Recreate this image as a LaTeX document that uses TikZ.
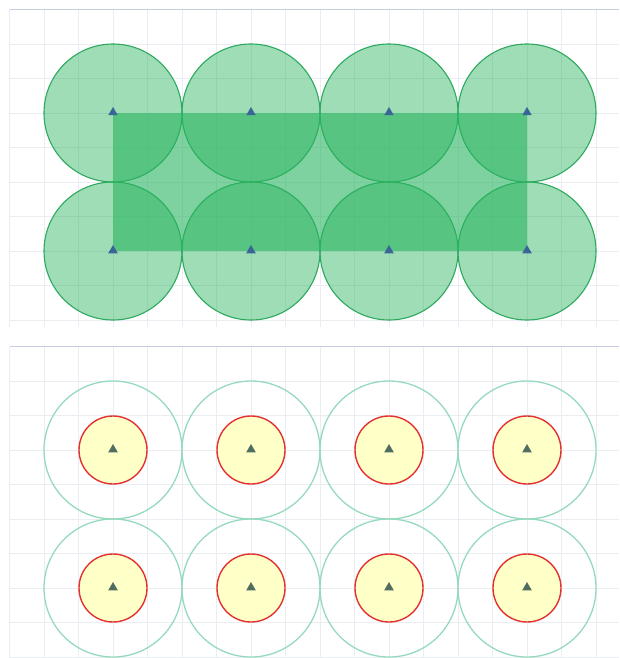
\documentclass[tikz,border=0pt]{standalone}
\usetikzlibrary{shapes.geometric}
\begin{document}
\begin{tikzpicture}[x=1pt,y=-1pt]
\definecolor{gridc}{RGB}{234,237,242}
\definecolor{borderc}{RGB}{200,206,226}
\definecolor{greenc}{RGB}{40,180,95}
\definecolor{greenline}{RGB}{45,170,95}
\definecolor{tealc}{RGB}{150,218,190}
\definecolor{yellowc}{RGB}{255,255,200}
\definecolor{redc}{RGB}{228,50,50}
\definecolor{bluetri}{RGB}{60,100,150}
\definecolor{graytri}{RGB}{80,110,95}
\tikzset{
  gridline/.style={draw=gridc, line width=0.8pt},
  panelborder/.style={draw=borderc, line width=1pt},
  bigdisc/.style={circle, minimum size=138pt, inner sep=0pt, fill=greenc, fill opacity=0.45, draw=greenline, draw opacity=1, line width=1.1pt},
  outerring/.style={circle, minimum size=138pt, inner sep=0pt, draw=tealc, line width=1.3pt},
  innerdisc/.style={circle, minimum size=68pt, inner sep=0pt, fill=yellowc, draw=redc, line width=1.4pt},
  tri/.style={regular polygon, regular polygon sides=3, minimum size=11pt, inner sep=0pt, yshift=0.5pt},
  bluemark/.style={tri, fill=bluetri},
  graymark/.style={tri, fill=graytri},
}
\useasboundingbox (0,0) rectangle (619,658);
\fill[white] (0,0) rectangle (619,658);
% top panel grid
\foreach \i in {0,...,17} { \draw[gridline] ({9.5+34.5*\i},9.5) -- ({9.5+34.5*\i},327); }
\foreach \j in {0,...,9} { \draw[gridline] (9.5,{9.5+34.5*\j}) -- (619,{9.5+34.5*\j}); }
\draw[panelborder] (9.5,9.5) -- (619,9.5);
% bottom panel grid
\foreach \i in {0,...,17} { \draw[gridline] ({9.5+34.5*\i},346.5) -- ({9.5+34.5*\i},658); }
\foreach \j in {0,...,9} { \draw[gridline] (9.5,{346.5+34.5*\j}) -- (619,{346.5+34.5*\j}); }
\draw[panelborder] (9.5,346.5) -- (619,346.5);
% top panel circles
\foreach \c [count=\k] in {113,251,389,527} {
  \node[bigdisc] (ta\k) at (\c,113) {};
  \node[bigdisc] (tb\k) at (\c,251) {};
}
\fill[greenc, fill opacity=0.6] (ta1.center) rectangle (tb4.center);
\foreach \k in {1,...,4} {
  \node[bluemark] at (ta\k.center) {};
  \node[bluemark] at (tb\k.center) {};
}
% bottom panel
\foreach \c [count=\k] in {113,251,389,527} {
  \node[outerring] (ba\k) at (\c,450) {};
  \node[outerring] (bb\k) at (\c,588) {};
  \node[innerdisc] (ia\k) at (\c,450) {};
  \node[innerdisc] (ib\k) at (\c,588) {};
  \node[graymark] at (ia\k.center) {};
  \node[graymark] at (ib\k.center) {};
}
\end{tikzpicture}
\end{document}
